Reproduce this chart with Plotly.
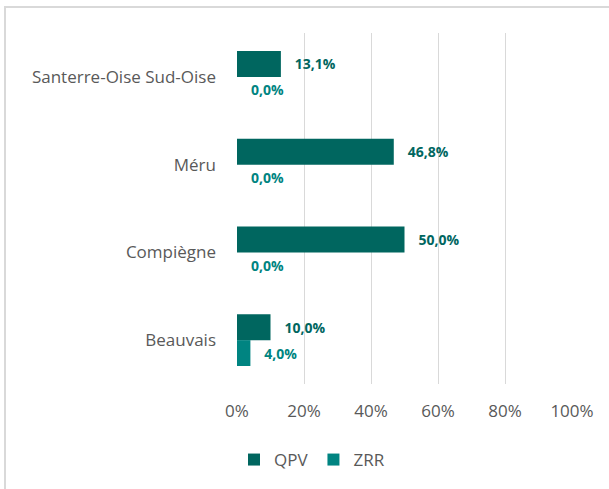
import plotly.graph_objects as go

categories = ["Santerre-Oise Sud-Oise", "Méru", "Compiègne", "Beauvais"]
qpv = [13.1, 46.8, 50.0, 10.0]
zrr = [0.0, 0.0, 0.0, 4.0]
x_ticks = [0, 20, 40, 60, 80, 100]
x_tick_labels = ["0%", "20%", "40%", "60%", "80%", "100%"]

QPV_COLOR = "#00665F"
ZRR_COLOR = "#008481"
FONT = "Open Sans"
PAD = "\u00a0\u00a0\u00a0"

def fmt(v):
    return PAD + f"{v:.1f}".replace(".", ",") + "%"

fig = go.Figure()
fig.add_trace(go.Bar(
    name="QPV", y=categories, x=qpv, orientation="h",
    marker=dict(color=QPV_COLOR, line=dict(width=0)),
    text=[fmt(v) for v in qpv], textposition="outside",
    textfont=dict(family=FONT, size=14, color=QPV_COLOR, weight="bold"),
    cliponaxis=False,
))
fig.add_trace(go.Bar(
    name="ZRR", y=categories, x=zrr, orientation="h",
    marker=dict(color=ZRR_COLOR, line=dict(width=0)),
    text=[fmt(v) for v in zrr], textposition="outside",
    textfont=dict(family=FONT, size=14, color=ZRR_COLOR, weight="bold"),
    cliponaxis=False,
))

L, R, T, B = 237, 37, 33, 104
W, H = 609, 489
pw, ph = W - L - R, H - T - B

fig.update_layout(
    width=W, height=H,
    margin=dict(l=L, r=R, t=T, b=B),
    paper_bgcolor="white", plot_bgcolor="white",
    barmode="group", bargap=0.41, bargroupgap=0,
    font=dict(family=FONT, size=17, color="#595959"),
    showlegend=True,
    legend=dict(orientation="h", x=(312 - L) / pw, xanchor="center",
                y=(H - B - 460) / ph, yanchor="middle",
                font=dict(size=17, color="#595959"), itemwidth=30,
                tracegroupgap=0),
    xaxis=dict(range=[0, 100], tickvals=x_ticks, ticktext=x_tick_labels,
               showgrid=True, gridcolor="#D9D9D9", gridwidth=1,
               zeroline=False, showline=False, ticks="",
               ticklabelstandoff=15, fixedrange=True),
    yaxis=dict(autorange="reversed", showgrid=False, showline=False,
               ticks="", ticklabelstandoff=20, zeroline=False),
    shapes=[dict(type="rect", xref="paper", yref="paper",
                 x0=(5 - L) / pw, x1=(640 - L) / pw,
                 y0=(H - B - 520) / ph, y1=(H - B - 7) / ph,
                 line=dict(color="#D9D9D9", width=2), fillcolor="rgba(0,0,0,0)",
                 layer="below")],
)

fig.write_html("out.html", config={"displayModeBar": False})

with open("out.html", encoding="utf-8") as f:
    html = f.read()
html = html.replace("<body>", '<body style="margin:0;padding:0;">', 1)
with open("out.html", "w", encoding="utf-8") as f:
    f.write(html)
